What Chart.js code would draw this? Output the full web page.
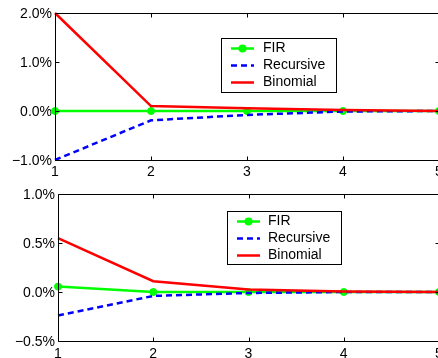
<!DOCTYPE html>
<html><head><meta charset="utf-8">
<script src="https://cdn.jsdelivr.net/npm/chart.js@4/dist/chart.umd.min.js"></script>
<style>
html,body{margin:0;padding:0;background:#fff;overflow:hidden;width:438px;height:358px}
#wrap{position:absolute;left:0;top:0;width:438px;height:358px;overflow:hidden}
#c1{position:absolute;left:0;top:0}
#c2{position:absolute;left:0;top:180px}
</style>
</head><body>
<div id="wrap">
<canvas id="c1" width="444" height="180"></canvas>
<canvas id="c2" width="444" height="178"></canvas>
</div>
<script>
// ---- data ----
const lags = ['1', '2', '3', '4', '5'];
const seriesNames = ['FIR', 'Recursive', 'Binomial'];
const firTop = [0.0, 0.0, 0.0, 0.0, 0.0];
const recursiveTop = [-1.0, -0.19, -0.08, -0.01, 0.0];
const binomialTop = [2.0, 0.10, 0.055, 0.02, 0.0];
const firBottom = [0.055, 0.0, 0.0, 0.0, 0.0];
const recursiveBottom = [-0.24, -0.04, -0.01, 0.0, 0.0];
const binomialBottom = [0.55, 0.11, 0.025, 0.005, 0.0];
const yTicksTop = [-1.0, 0.0, 1.0, 2.0];
const yTicksBottom = [-0.5, 0.0, 0.5, 1.0];

const FONT = '"Liberation Sans", Arial, Helvetica, sans-serif';
const GREEN = '#00ff00', BLUE = '#0000ff', RED = '#ff0000';

function fmtPct(v) {
  const s = Math.abs(v).toFixed(1) + '%';
  return v < 0 ? '\u2212' + s : s;
}

const framePlugin = {
  id: 'frame',
  afterDatasetsDraw(chart) {
    const { ctx, chartArea: a, scales } = chart;
    const L = Math.round(a.left) + 0.5, R = Math.round(a.right) + 0.5;
    const T = Math.round(a.top) + 0.5, B = Math.round(a.bottom) + 0.5;
    const tl = 4;
    ctx.save();
    ctx.strokeStyle = '#000';
    ctx.lineWidth = 1;
    ctx.beginPath();
    ctx.rect(L, T, R - L, B - T);
    scales.y.ticks.forEach(t => {
      const py = Math.round(scales.y.getPixelForValue(t.value)) + 0.5;
      ctx.moveTo(L, py); ctx.lineTo(L + tl, py);
      ctx.moveTo(R, py); ctx.lineTo(R - tl, py);
    });
    scales.x.ticks.forEach((t, i) => {
      const px = Math.round(scales.x.getPixelForTick(i)) + 0.5;
      ctx.moveTo(px, T); ctx.lineTo(px, T + tl);
      ctx.moveTo(px, B); ctx.lineTo(px, B - tl);
    });
    ctx.stroke();
    ctx.restore();
  }
};

const boxLegendPlugin = {
  id: 'boxLegend',
  afterDraw(chart, args, opts) {
    const { ctx, chartArea: a } = chart;
    const x = a.left + opts.dx, y = a.top + opts.dy, w = opts.w, h = opts.h;
    ctx.save();
    ctx.fillStyle = '#fff';
    ctx.fillRect(x, y, w, h);
    ctx.strokeStyle = '#000';
    ctx.lineWidth = 1;
    ctx.strokeRect(Math.round(x) + 0.5, Math.round(y) + 0.5, w, h);
    const rowsY = [10, 27, 44];
    chart.data.datasets.forEach((ds, i) => {
      const ry = y + rowsY[i] + 0.5;
      ctx.strokeStyle = ds.borderColor;
      ctx.lineWidth = ds.borderWidth;
      ctx.setLineDash(ds.borderDash || []);
      ctx.beginPath();
      ctx.moveTo(x + 10, ry);
      ctx.lineTo(x + 33, ry);
      ctx.stroke();
      ctx.setLineDash([]);
      if (ds.pointRadius > 0) {
        ctx.fillStyle = ds.pointBackgroundColor;
        ctx.beginPath();
        ctx.arc(x + 21.5, ry, ds.pointRadius + 0.5, 0, Math.PI * 2);
        ctx.fill();
      }
      ctx.fillStyle = '#000';
      ctx.font = '14px ' + FONT;
      ctx.textBaseline = 'middle';
      ctx.fillText(ds.label, x + opts.textDx, ry);
    });
    ctx.restore();
  }
};

function makeChart(id, fir, rec, bin, yTicks, yWidth, xHeight, padTop, xPad, legendPos) {
  const datasets = [
    { label: seriesNames[0], data: fir, borderColor: GREEN, backgroundColor: GREEN,
      pointBackgroundColor: GREEN, pointBorderColor: GREEN, borderWidth: 2.5,
      pointRadius: 3.5, pointBorderWidth: 1, order: 3, clip: false },
    { label: seriesNames[1], data: rec, borderColor: BLUE, backgroundColor: BLUE,
      borderDash: [6, 4], borderWidth: 2.5, pointRadius: 0, order: 2, clip: false },
    { label: seriesNames[2], data: bin, borderColor: RED, backgroundColor: RED,
      borderWidth: 2.5, pointRadius: 0, order: 1, clip: false }
  ];
  return new Chart(document.getElementById(id), {
    type: 'line',
    data: { labels: lags, datasets },
    options: {
      responsive: false,
      animation: false,
      devicePixelRatio: 1,
      layout: { padding: { top: padTop, right: 0, left: 0, bottom: 0 } },
      elements: { line: { tension: 0 } },
      plugins: {
        legend: { display: false },
        tooltip: { enabled: false },
        boxLegend: legendPos
      },
      scales: {
        x: {
          type: 'category',
          offset: false,
          grid: { display: false, drawTicks: false },
          border: { display: false },
          ticks: { color: '#000', font: { family: FONT, size: 14 }, padding: xPad,
                   maxRotation: 0, autoSkip: false },
          afterFit(s) { s.height = xHeight; s.paddingLeft = 0; s.paddingRight = 0; }
        },
        y: {
          min: yTicks[0],
          max: yTicks[yTicks.length - 1],
          grid: { display: false, drawTicks: false },
          border: { display: false },
          afterBuildTicks(s) { s.ticks = yTicks.map(v => ({ value: v })); },
          ticks: { color: '#000', font: { family: FONT, size: 14 }, padding: 3,
                   labelOffset: 1, callback: v => fmtPct(v) },
          afterFit(s) { s.width = yWidth; s.paddingTop = 0; s.paddingBottom = 0; }
        }
      }
    },
    plugins: [framePlugin, boxLegendPlugin]
  });
}

makeChart('c1', firTop, recursiveTop, binomialTop, yTicksTop, 55, 20, 13, 4,
  { dx: 166, dy: 25, w: 115, h: 54, textDx: 42 });
makeChart('c2', firBottom, recursiveBottom, binomialBottom, yTicksBottom, 58, 17, 14, 5,
  { dx: 169, dy: 17, w: 114, h: 53, textDx: 41 });
</script>
</body></html>
